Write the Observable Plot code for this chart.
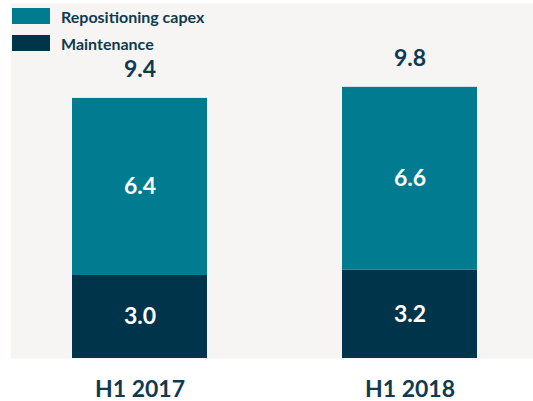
<!DOCTYPE html>
<html>
<head>
<meta charset="utf-8">
<script src="https://cdn.jsdelivr.net/npm/d3@7"></script>
<script src="https://cdn.jsdelivr.net/npm/@observablehq/plot@0.6"></script>
<style>
  html, body { margin: 0; padding: 0; background: #ffffff; }
  #wrap { position: relative; width: 533px; height: 401px; font-family: Lato, "Open Sans", sans-serif; }
  #legend { position: absolute; left: 12px; top: 8px; }
  .item { display: flex; align-items: center; height: 16px; margin-bottom: 11px; }
  .sw { width: 38px; height: 16px; margin-right: 11px; }
  .lbl { font-size: 16px; font-weight: 700; color: #0f3a50; }
</style>
</head>
<body>
<div id="wrap"></div>
<script>
const categories = ["H1 2017", "H1 2018"];
const maintenance = [3.0, 3.2];
const repositioning = [6.4, 6.6];
const totals = [9.4, 9.8];
const seriesNames = ["Maintenance", "Repositioning capex"];
const colors = ["#00344b", "#007b8f"];

const rows = [];
categories.forEach((c, i) => {
  rows.push({cat: c, series: seriesNames[0], value: maintenance[i]});
  rows.push({cat: c, series: seriesNames[1], value: repositioning[i]});
});
const totalRows = categories.map((c, i) => ({cat: c, total: totals[i]}));

const chart = Plot.plot({
  width: 533,
  height: 401,
  marginLeft: 10,
  marginRight: 0,
  marginTop: 3,
  marginBottom: 43,
  style: {fontFamily: "Lato, 'Open Sans', sans-serif", background: "transparent"},
  x: {domain: categories, paddingInner: 0.5, paddingOuter: 0.2185, align: 0.525, label: null},
  y: {domain: [0, 12.83], axis: null},
  color: {domain: seriesNames, range: colors},
  marks: [
    Plot.frame({fill: "#f7f5f3", stroke: "none"}),
    Plot.barY(rows, Plot.stackY({x: "cat", y: "value", fill: "series", order: seriesNames})),
    Plot.text(rows, Plot.stackY({x: "cat", y: "value", z: "series", order: seriesNames,
      text: d => d.value.toFixed(1), fill: "white", fontSize: 23, fontWeight: 700})),
    Plot.text(totalRows, {x: "cat", y: "total", text: d => d.total.toFixed(1), dy: -28.5,
      fill: "#0f3a50", fontSize: 23, fontWeight: 700}),
    Plot.axisX({tickSize: 0, tickPadding: 22, fontSize: 23, fontWeight: 700, color: "#0f3a50", label: null})
  ]
});
chart.style.display = "block";
const wrap = document.getElementById("wrap");
wrap.appendChild(chart);

const legend = document.createElement("div");
legend.id = "legend";
[1, 0].forEach(i => {
  const item = document.createElement("div");
  item.className = "item";
  const sw = document.createElement("div");
  sw.className = "sw";
  sw.style.background = colors[i];
  const lbl = document.createElement("span");
  lbl.className = "lbl";
  lbl.textContent = seriesNames[i];
  item.appendChild(sw);
  item.appendChild(lbl);
  legend.appendChild(item);
});
wrap.appendChild(legend);
</script>
</body>
</html>
